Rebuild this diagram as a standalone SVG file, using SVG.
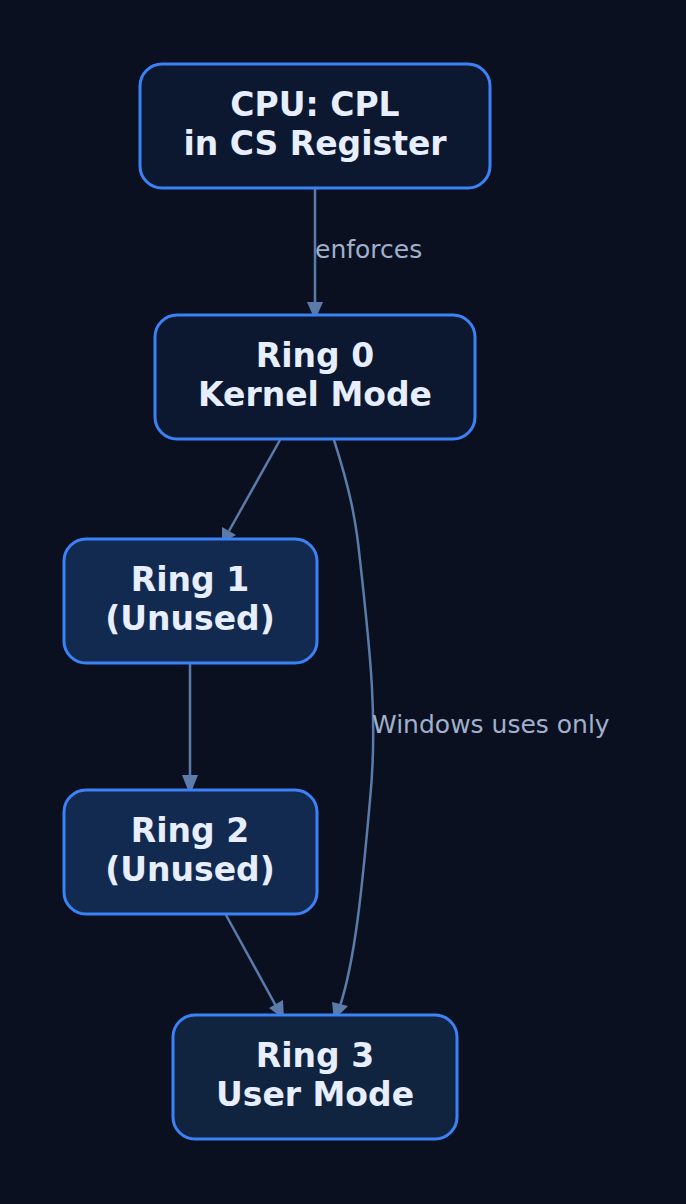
<svg xmlns="http://www.w3.org/2000/svg" width="686" height="1204" viewBox="0 0 686 1204">
<defs>
<style>
.n{stroke:#3b82f6;stroke-width:3}
.t{font-family:"DejaVu Sans",sans-serif;font-weight:bold;font-size:33px;fill:#e6eeff;text-anchor:middle}
.e{fill:none;stroke:#5b7bab;stroke-width:2.5}
.l{font-family:"DejaVu Sans",sans-serif;font-size:25px;fill:#a0b0cc}
</style>
</defs>
<rect width="686" height="1204" fill="#0a1020"/>
<g id="connectors">
<path class="e" d="M315,188 L315,302"/>
<path class="e" d="M280,440 L229,531"/>
<path class="e" d="M190,663 L190,781"/>
<path class="e" d="M226,915 L276,1006"/>
<path class="e" d="M334,440 C350,490 356,520 360,560 C370,650 378,720 370,800 C362,890 355,960 340,1006"/>
<polygon points="307,302 323,302 315,320" fill="#5b7bab"/>
<polygon points="222,527 236,535 222,543" fill="#5b7bab"/>
<polygon points="182,775 198,775 190,795" fill="#5b7bab"/>
<polygon points="269,1008 283,1000 284,1019" fill="#5b7bab"/>
<polygon points="332,1002 348,1006 334,1020" fill="#5b7bab"/>
<text class="l" x="315" y="258">enforces</text>
<text class="l" x="372" y="733">Windows uses only</text>
</g>
<g id="cpu"><rect class="n" x="140" y="64" width="350" height="124" rx="22" fill="#0c1730"/>
<text class="t" x="315" y="116">CPU: CPL</text><text class="t" x="315" y="155">in CS Register</text></g>
<g id="ring0"><rect class="n" x="155" y="315" width="320" height="124" rx="22" fill="#0c1730"/>
<text class="t" x="315" y="367">Ring 0</text><text class="t" x="315" y="406">Kernel Mode</text></g>
<g id="ring1"><rect class="n" x="64" y="539" width="253" height="124" rx="22" fill="#132a50"/>
<text class="t" x="190" y="591">Ring 1</text><text class="t" x="190" y="630">(Unused)</text></g>
<g id="ring2"><rect class="n" x="64" y="790" width="253" height="124" rx="22" fill="#132a50"/>
<text class="t" x="190" y="842">Ring 2</text><text class="t" x="190" y="881">(Unused)</text></g>
<g id="ring3"><rect class="n" x="173" y="1015" width="284" height="124" rx="22" fill="#10233f"/>
<text class="t" x="315" y="1067">Ring 3</text><text class="t" x="315" y="1106">User Mode</text></g>
</svg>
